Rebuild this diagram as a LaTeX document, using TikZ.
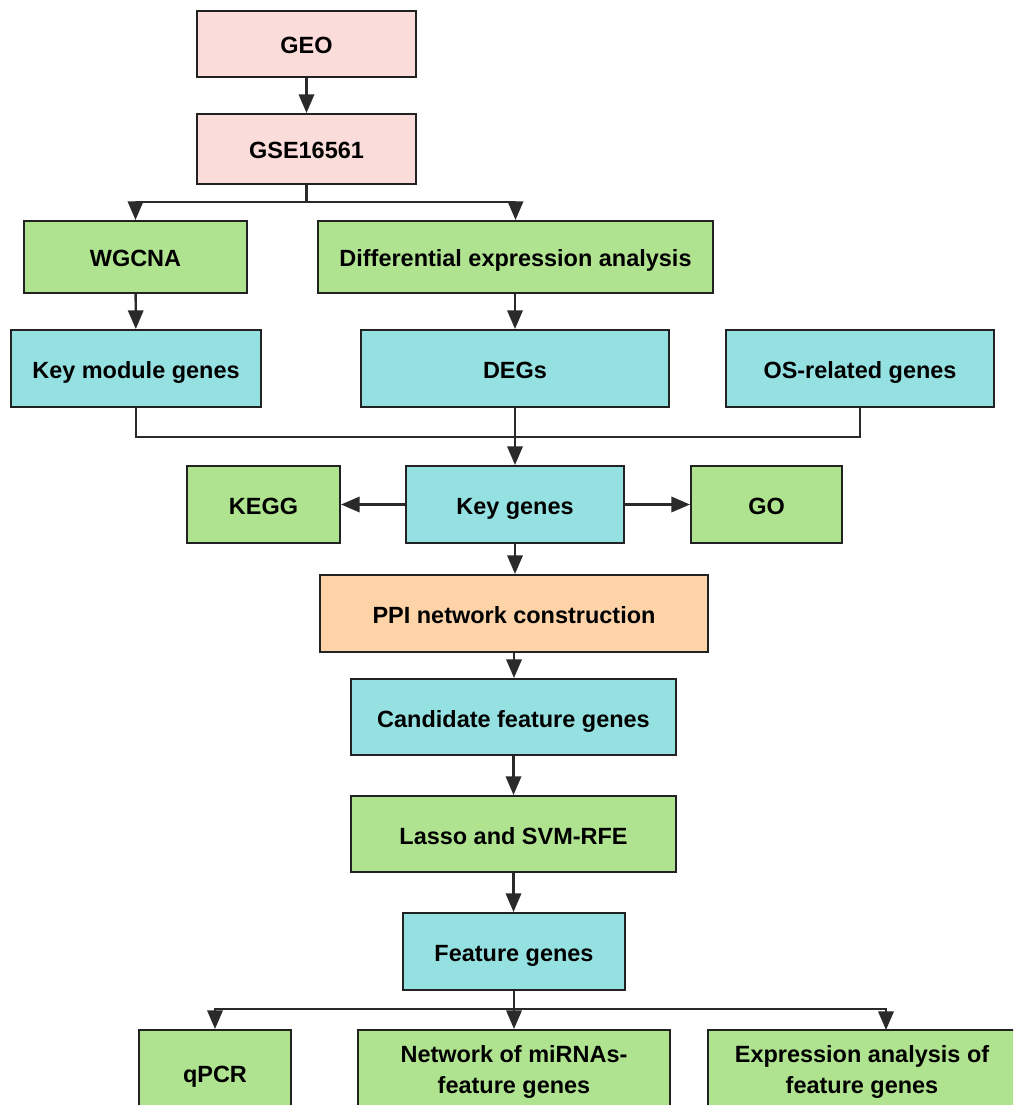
\documentclass[tikz,border=0pt]{standalone}
\usepackage{fontspec}
\setmainfont{Liberation Sans}
\usetikzlibrary{arrows.meta}
\definecolor{cpink}{HTML}{FADCDA}
\definecolor{cgreen}{HTML}{B0E38F}
\definecolor{ccyan}{HTML}{95E1E1}
\definecolor{corange}{HTML}{FDD3A7}
\definecolor{cline}{HTML}{2A2A2A}
\definecolor{cborder}{HTML}{222222}
\tikzset{
  boxbase/.style={draw=cborder, line width=1.5pt, rectangle, align=center, inner sep=0pt,
    font=\fontsize{17.6}{23}\selectfont\bfseries, text=black},
  box/.style={boxbase, text height=15pt, text depth=0pt},
  lnk/.style={draw=cline, line width=1.8pt},
  arr/.style={lnk, -{Triangle[length=14pt, width=11.5pt]}},
}
\begin{document}
\begin{tikzpicture}[x=0.75pt, y=-0.75pt]
\useasboundingbox (0,0) rectangle (1013,1105);
\clip (0,0) rectangle (1013,1105);
\fill[white] (0,0) rectangle (1013,1105);
% nodes
\node[box, fill=cpink, minimum width=164.25pt, minimum height=49.5pt] (geo) at (306.5,44) {GEO};
\node[box, fill=cpink, minimum width=164.25pt, minimum height=52.5pt] (gse) at (306.5,149) {GSE16561};
\node[box, fill=cgreen, minimum width=167.25pt, minimum height=54pt] (wgcna) at (135.5,257) {WGCNA};
\node[box, fill=cgreen, minimum width=296.25pt, minimum height=54pt] (dea) at (515.5,257) {Differential expression analysis};
\node[box, fill=ccyan, minimum width=187.5pt, minimum height=57.75pt] (kmg) at (136,368.5) {Key module genes};
\node[box, fill=ccyan, minimum width=231pt, minimum height=57.75pt] (degs) at (515,368.5) {DEGs};
\node[box, fill=ccyan, minimum width=201pt, minimum height=57.75pt] (osr) at (860,368.5) {OS-related genes};
\node[box, fill=cgreen, minimum width=114.75pt, minimum height=57.75pt] (kegg) at (263.5,504.5) {KEGG};
\node[box, fill=ccyan, minimum width=163.5pt, minimum height=57.75pt] (keyg) at (515,504.5) {Key genes};
\node[box, fill=cgreen, minimum width=113.25pt, minimum height=57.75pt] (go) at (766.5,504.5) {GO};
\node[box, fill=corange, minimum width=291pt, minimum height=57.75pt] (ppi) at (514,613.5) {PPI network construction};
\node[box, fill=ccyan, minimum width=243.75pt, minimum height=57pt] (cand) at (513.5,717) {Candidate feature genes};
\node[box, fill=cgreen, minimum width=243.75pt, minimum height=57pt] (lasso) at (513.5,834) {Lasso and SVM-RFE};
\node[box, fill=ccyan, minimum width=166.5pt, minimum height=57.75pt] (feat) at (514,951.5) {Feature genes};
\node[box, fill=cgreen, minimum width=114pt, minimum height=63pt] (qpcr) at (215,1072) {qPCR};
\node[boxbase, fill=cgreen, minimum width=234pt, minimum height=63pt] (net) at (514,1072) {Network of miRNAs-\\feature genes};
\node[boxbase, fill=cgreen, minimum width=231pt, minimum height=63pt] (expr) at (862,1072) {Expression analysis of\\feature genes};
% helper coordinates
\coordinate (s1) at (306.5,202);
\coordinate (m1) at (515,437);
\coordinate (f1) at (514,1009);
\coordinate (eIn) at (886,1030);
% connectors
\draw[arr] (geo) -- (gse);
\draw[lnk] (gse.south) -- (s1);
\draw[arr] (s1) -| (wgcna.north);
\draw[arr] (s1) -| (dea.north);
\draw[arr] (wgcna) -- (kmg);
\draw[arr] (dea.south -| degs.north) -- (degs.north);
\draw[lnk] (kmg.south) |- (m1) -| (osr.south);
\draw[arr] (degs.south) -- (keyg.north);
\draw[arr] (keyg) -- (kegg);
\draw[arr] (keyg) -- (go);
\draw[arr] (keyg.south) -- (keyg.south |- ppi.north);
\draw[arr] (ppi.south) -- (ppi.south |- cand.north);
\draw[arr] (cand) -- (lasso);
\draw[arr] (lasso.south) -- (lasso.south |- feat.north);
\draw[lnk] (feat.south) -- (f1);
\draw[arr] (f1) -| (qpcr.north);
\draw[arr] (f1) -- (net.north);
\draw[arr] (f1) -| (eIn);
\end{tikzpicture}
\end{document}
